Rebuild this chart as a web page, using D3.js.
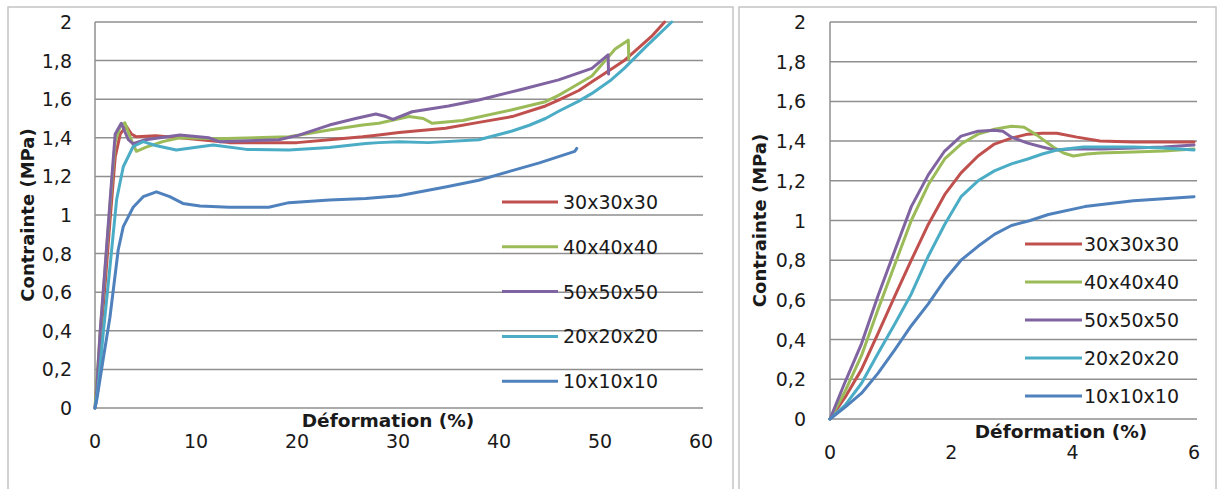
<!DOCTYPE html>
<html>
<head>
<meta charset="utf-8">
<script src="https://cdn.jsdelivr.net/npm/d3@7"></script>
<style>
  html, body { margin: 0; padding: 0; background: #fff; }
  svg { display: block; }
  text { font-family: "DejaVu Sans", sans-serif; fill: #1a1a1a; }
</style>
</head>
<body>
<svg id="chart" width="1219" height="489"></svg>
<script>
// ---------- DATA ----------
const seriesNames = ["30x30x30", "40x40x40", "50x50x50", "20x20x20", "10x10x10"];
const seriesColors = ["#C0504D", "#9BBB59", "#8064A2", "#4BACC6", "#4F81BD"];

const yTicks = [0, 0.2, 0.4, 0.6, 0.8, 1, 1.2, 1.4, 1.6, 1.8, 2];
const xTicksLeft = [0, 10, 20, 30, 40, 50, 60];
const xTicksRight = [0, 2, 4, 6];
const xTitle = "Déformation (%)";
const yTitle = "Contrainte (MPa)";

// Left chart (full strain range)
const left30 = [[0,0],[0.5,0.33],[1.0,0.64],[1.5,0.98],[2.0,1.3],[2.5,1.42],[3.1,1.46],[3.6,1.42],[4.1,1.405],[6,1.41],[8.4,1.40],[13.3,1.375],[20,1.375],[23.2,1.39],[26.5,1.405],[28.1,1.415],[30.1,1.427],[34.7,1.45],[38,1.48],[41.3,1.51],[44.6,1.565],[45.9,1.595],[47.9,1.645],[49.2,1.69],[51.1,1.755],[52.4,1.80],[55.1,1.925],[56.4,2.0]];
const left40 = [[0,0],[0.5,0.38],[1.0,0.72],[1.5,1.06],[2.0,1.38],[2.5,1.46],[2.96,1.478],[3.5,1.40],[4.1,1.33],[5,1.35],[6.7,1.38],[8.4,1.40],[12,1.395],[19.2,1.405],[23.2,1.44],[26.5,1.466],[28.1,1.475],[31.1,1.51],[32.5,1.50],[33.4,1.475],[36.4,1.49],[41.3,1.545],[44.6,1.587],[45.9,1.62],[46.9,1.65],[49.2,1.72],[51.5,1.86],[52.8,1.906],[52.85,1.81]];
const left50 = [[0,0],[0.1,0.03],[0.5,0.39],[1.0,0.73],[1.5,1.08],[2.0,1.42],[2.6,1.475],[3.3,1.39],[3.75,1.37],[5,1.39],[8.4,1.415],[11.3,1.40],[12.3,1.38],[18.2,1.39],[20.2,1.414],[23.2,1.466],[25.8,1.50],[27.8,1.523],[28.8,1.51],[29.5,1.495],[31.4,1.535],[35,1.565],[38,1.596],[42.2,1.65],[45.9,1.70],[49.2,1.76],[50.8,1.83],[50.85,1.73]];
const left20 = [[0,0],[0.3,0.1],[0.82,0.39],[1.48,0.73],[2.14,1.08],[2.8,1.25],[3.78,1.355],[4.77,1.38],[6,1.36],[8.05,1.337],[10.4,1.354],[11.7,1.363],[15,1.34],[19.2,1.337],[23.2,1.35],[26.8,1.371],[28.1,1.375],[30.1,1.38],[33,1.375],[38,1.39],[41.3,1.435],[43,1.465],[44.6,1.50],[46,1.54],[47.9,1.59],[49.2,1.63],[51.1,1.70],[52.4,1.76],[54.5,1.87],[55.1,1.90],[57.1,2.0]];
const left10 = [[0,0],[0.2,0.05],[0.8,0.25],[1.48,0.47],[2.3,0.82],[2.8,0.94],[3.78,1.04],[4.77,1.095],[6.08,1.12],[7.4,1.095],[8.7,1.06],[10.4,1.047],[13.3,1.04],[17.2,1.04],[19.2,1.064],[23.2,1.078],[26.8,1.085],[30.1,1.10],[34.7,1.145],[38,1.18],[41.3,1.23],[44,1.27],[47.5,1.33],[47.7,1.345]];

// Right chart (zoom 0–6 %)
const right30 = [[0,0],[0.25,0.11],[0.52,0.25],[0.79,0.43],[1.07,0.62],[1.34,0.80],[1.62,0.98],[1.89,1.13],[2.16,1.24],[2.44,1.325],[2.71,1.385],[2.99,1.415],[3.26,1.435],[3.5,1.44],[3.74,1.44],[4.07,1.42],[4.45,1.40],[5.0,1.395],[6.0,1.395]];
const right40 = [[0,0],[0.25,0.14],[0.52,0.32],[0.79,0.55],[1.07,0.78],[1.34,1.0],[1.62,1.18],[1.89,1.31],[2.16,1.385],[2.44,1.435],[2.71,1.46],[2.99,1.475],[3.2,1.47],[3.41,1.43],[3.68,1.37],[3.85,1.34],[4.01,1.325],[4.23,1.335],[4.45,1.34],[5.0,1.345],[5.5,1.35],[6.0,1.36]];
const right50 = [[0,0],[0.24,0.18],[0.52,0.38],[0.79,0.62],[1.07,0.85],[1.34,1.07],[1.62,1.23],[1.89,1.35],[2.16,1.425],[2.44,1.45],[2.71,1.455],[2.85,1.45],[2.99,1.42],[3.26,1.39],[3.5,1.37],[3.7,1.355],[4.0,1.36],[4.5,1.36],[5.0,1.365],[5.5,1.37],[6.0,1.38]];
const right20 = [[0,0],[0.25,0.07],[0.52,0.18],[0.79,0.33],[1.07,0.48],[1.34,0.63],[1.62,0.82],[1.89,0.98],[2.16,1.12],[2.44,1.20],[2.71,1.25],[2.99,1.285],[3.26,1.31],[3.5,1.335],[3.74,1.355],[4.18,1.37],[5.0,1.37],[5.5,1.365],[6.0,1.355]];
const right10 = [[0,0],[0.25,0.06],[0.52,0.13],[0.79,0.23],[1.07,0.35],[1.34,0.47],[1.62,0.58],[1.89,0.70],[2.16,0.80],[2.44,0.87],[2.71,0.93],[2.99,0.975],[3.3,1.0],[3.6,1.03],[4.2,1.07],[5.0,1.10],[5.5,1.11],[6.0,1.12]];

// ---------- LAYOUT ----------
const charts = [
  { frame: {x: 8, y: 7, w: 725, h: 485}, plot: {l: 95, r: 701, gridR: 703, t: 22, b: 408},
    xDomain: [0, 60], xTicks: xTicksLeft, series: [left30, left40, left50, left20, left10],
    yLabelX: 72, yTitleX: 27, xTitleX: 388, legend: {x1: 502, x2: 558, tx: 563, y0: 202, dy: 44.8} },
  { frame: {x: 739, y: 7, w: 477, h: 485}, plot: {l: 830, r: 1194, gridR: 1197, t: 22, b: 419},
    xDomain: [0, 6], xTicks: xTicksRight, series: [right30, right40, right50, right20, right10],
    yLabelX: 806, yTitleX: 759, xTitleX: 1061, legend: {x1: 1025, x2: 1082, tx: 1084, y0: 244, dy: 38} }
];

const svg = d3.select("#chart");
const fmt = v => String(v).replace(".", ",");
const tickFont = 19;

charts.forEach(c => {
  const g = svg.append("g");
  g.append("rect").attr("x", c.frame.x).attr("y", c.frame.y).attr("width", c.frame.w).attr("height", c.frame.h)
    .attr("fill", "#fff").attr("stroke", "#c4c4c4").attr("stroke-width", 1.5);

  const x = d3.scaleLinear().domain(c.xDomain).range([c.plot.l, c.plot.r]);
  const y = d3.scaleLinear().domain([0, 2]).range([c.plot.b, c.plot.t]);

  // gridlines
  g.append("g").selectAll("line").data(yTicks).join("line")
    .attr("x1", c.plot.l).attr("x2", c.plot.gridR)
    .attr("y1", d => y(d)).attr("y2", d => y(d))
    .attr("stroke", "#8f8f8f").attr("stroke-width", 1.5);
  // vertical axis line
  g.append("line").attr("x1", c.plot.l).attr("x2", c.plot.l).attr("y1", c.plot.t).attr("y2", c.plot.b)
    .attr("stroke", "#8f8f8f").attr("stroke-width", 1.5);

  // y tick labels
  g.append("g").selectAll("text").data(yTicks).join("text")
    .attr("x", c.yLabelX).attr("y", d => y(d)).attr("text-anchor", "end")
    .attr("dominant-baseline", "central").attr("font-size", tickFont).text(fmt);
  // x tick labels
  g.append("g").selectAll("text").data(c.xTicks).join("text")
    .attr("x", d => x(d)).attr("y", c.plot.b + 33).attr("text-anchor", "middle")
    .attr("dominant-baseline", "central").attr("font-size", tickFont).text(fmt);

  // axis titles
  g.append("text").attr("x", c.xTitleX).attr("y", c.plot.b + 19).attr("text-anchor", "middle")
    .attr("font-size", 18.5).attr("font-weight", "bold").text(xTitle);
  const cy = (c.plot.t + c.plot.b) / 2;
  g.append("text").attr("transform", `translate(${c.yTitleX},${cy}) rotate(-90)`)
    .attr("text-anchor", "middle").attr("dominant-baseline", "central")
    .attr("font-size", 18).attr("font-weight", "bold").text(yTitle);

  // series
  const line = d3.line().x(d => x(d[0])).y(d => y(d[1]));
  c.series.forEach((s, i) => {
    g.append("path").datum(s).attr("d", line).attr("fill", "none")
      .attr("stroke", seriesColors[i]).attr("stroke-width", 3)
      .attr("stroke-linejoin", "round").attr("stroke-linecap", "round");
  });

  // legend
  const lg = g.append("g");
  seriesNames.forEach((n, i) => {
    const ly = c.legend.y0 + i * c.legend.dy;
    lg.append("line").attr("x1", c.legend.x1).attr("x2", c.legend.x2).attr("y1", ly).attr("y2", ly)
      .attr("stroke", seriesColors[i]).attr("stroke-width", 3);
    lg.append("text").attr("x", c.legend.tx).attr("y", ly).attr("dominant-baseline", "central")
      .attr("font-size", tickFont).text(n);
  });
});
</script>
</body>
</html>
